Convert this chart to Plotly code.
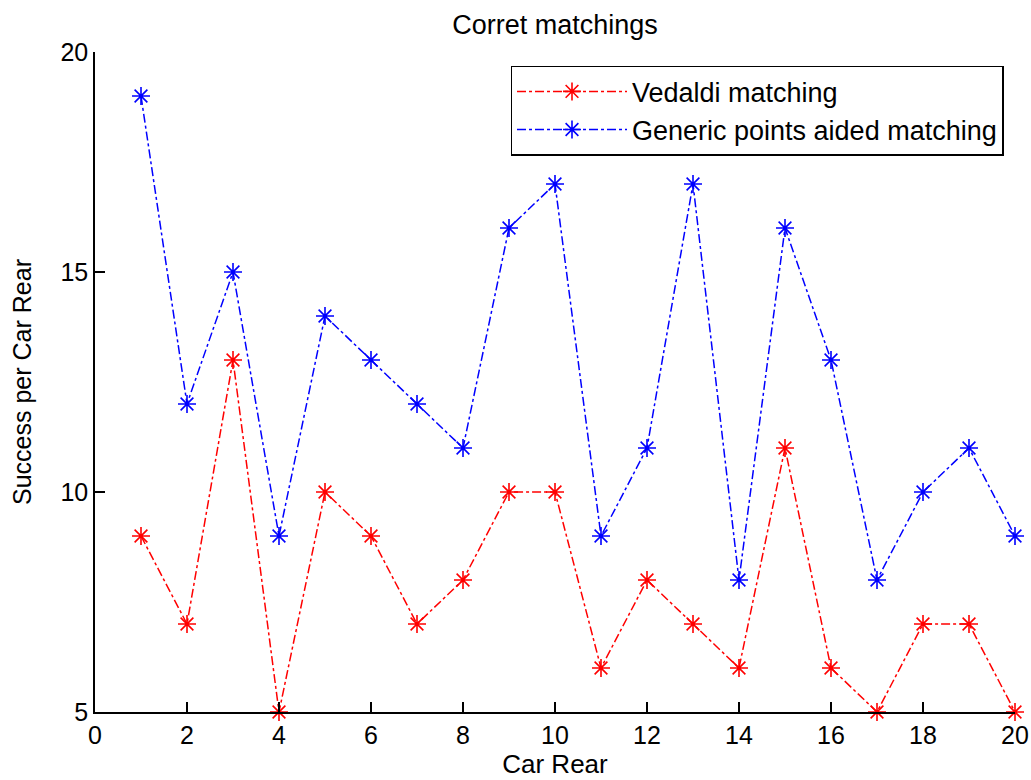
import plotly.graph_objects as go

car_rear = list(range(1, 21))
vedaldi = [9, 7, 13, 5, 10, 9, 7, 8, 10, 10, 6, 8, 7, 6, 11, 6, 5, 7, 7, 5]
generic = [19, 12, 15, 9, 14, 13, 12, 11, 16, 17, 9, 11, 17, 8, 16, 13, 8, 10, 11, 9]

font = "Liberation Sans, Arial, sans-serif"

fig = go.Figure()
fig.add_trace(go.Scatter(
    x=car_rear, y=vedaldi, mode="lines+markers", name="Vedaldi matching",
    line=dict(color="#ff0000", width=1.5, dash="dashdot"),
    marker=dict(symbol="asterisk-open", size=15, color="#ff0000", line=dict(color="#ff0000", width=1.6)),
    cliponaxis=False,
))
fig.add_trace(go.Scatter(
    x=car_rear, y=generic, mode="lines+markers", name="Generic points aided matching",
    line=dict(color="#0000ff", width=1.5, dash="dashdot"),
    marker=dict(symbol="asterisk-open", size=15, color="#0000ff", line=dict(color="#0000ff", width=1.6)),
    cliponaxis=False,
))

fig.update_layout(
    width=1031, height=780,
    margin=dict(l=95, r=16, t=52, b=68),
    paper_bgcolor="white", plot_bgcolor="white",
    font=dict(family=font, color="#000000", size=25),
    title=dict(text="Corret matchings", x=(95 + 1015) / 2 / 1031, xanchor="center",
               y=1 - 25 / 780, yanchor="middle", font=dict(size=27, family=font)),
    showlegend=True,
    legend=dict(x=0.9875, xanchor="right", y=0.979, yanchor="top",
                bgcolor="white", bordercolor="black", borderwidth=1.5,
                font=dict(size=27, family=font), tracegroupgap=0, itemwidth=110),
    xaxis=dict(range=[0, 20], tickvals=list(range(0, 21, 2)), showgrid=False, zeroline=False,
               showline=True, linecolor="black", linewidth=1.5, ticks="inside", ticklen=10,
               tickcolor="black", tickwidth=1.5, mirror=False, automargin=False,
               title=dict(text="Car Rear", font=dict(size=26), standoff=2),
               tickfont=dict(size=25)),
    yaxis=dict(range=[5, 20], tickvals=[5, 10, 15, 20], showgrid=False, zeroline=False,
               showline=True, linecolor="black", linewidth=1.5, ticks="inside", ticklen=10,
               tickcolor="black", tickwidth=1.5, mirror=False, automargin=False,
               title=dict(text="Success per Car Rear", font=dict(size=25), standoff=22),
               tickfont=dict(size=25)),
)

fig.write_html("out.html")
